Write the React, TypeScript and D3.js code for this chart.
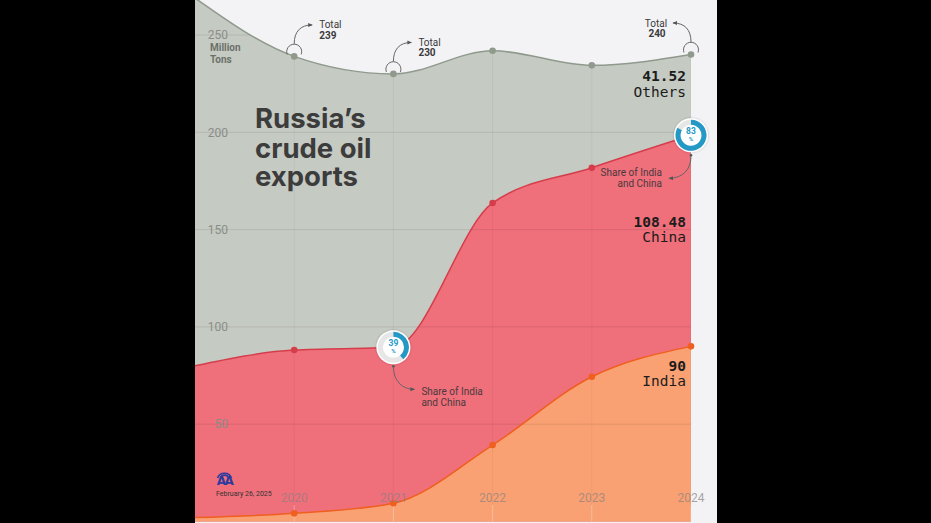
import React from "react";
import * as d3 from "d3";

const years = [2019, 2020, 2021, 2022, 2023, 2024];
const india = [2, 4.2, 9.4, 39.3, 74.4, 90];
const china = [78, 83.9, 80.1, 124.4, 107.4, 108.48];
const others = [189, 150.9, 140.5, 78.2, 52.6, 41.52];
const yTicks = [50, 100, 150, 200, 250];
const xTickYears = [2020, 2021, 2022, 2023, 2024];
const totalNotes = [
  { year: 2020, total: 239 },
  { year: 2021, total: 230 },
  { year: 2024, total: 240 },
];
const shareNotes = [
  { year: 2021, share: 39 },
  { year: 2024, share: 83 },
];

const W = 931;
const H = 523;
const PANEL_R = 717;

const C_GRAY = "#c5cac2";
const C_RED = "#ef6f7b";
const C_ORANGE = "#f9a173";
const L_GRAY = "#8f998c";
const L_RED = "#d63d4b";
const L_ORANGE = "#ef5f1f";
const BLUE = "#2499c6";

export default function App() {
  const x = d3.scaleLinear().domain([2019, 2024]).range([195, 691]);
  const y = d3.scaleLinear().domain([0, 250]).range([521.5, 35]);

  const rows = years.map((yr, i) => ({ year: yr, india: india[i], china: china[i], others: others[i] }));
  const stack = d3.stack<any>().keys(["india", "china", "others"])(rows);
  const curve = d3.curveMonotoneX;

  const area = d3
    .area<any>()
    .x((d) => x(d.data.year))
    .y0(() => y(0))
    .y1((d) => y(d[1]))
    .curve(curve);
  const line = d3
    .line<any>()
    .x((d) => x(d.data.year))
    .y((d) => y(d[1]))
    .curve(curve);

  const panelL = x(2019);
  const layerStyle = [
    { fill: C_ORANGE, stroke: L_ORANGE },
    { fill: C_RED, stroke: L_RED },
    { fill: C_GRAY, stroke: L_GRAY },
  ];

  const donutArc = d3.arc<any>();
  const totalOf = (yr: number) => {
    const i = years.indexOf(yr);
    return india[i] + china[i] + others[i];
  };
  const icOf = (yr: number) => {
    const i = years.indexOf(yr);
    return india[i] + china[i];
  };

  return (
    <div style={{ position: "fixed", left: 0, top: 0, width: W, height: H }}>
      <svg width={W} height={H} style={{ display: "block", fontFamily: "Roboto, sans-serif" }}>
        <defs>
          <clipPath id="areaClip">
            <path d={area(stack[2]) || ""} />
          </clipPath>
          <marker id="arrow" viewBox="0 0 10 10" refX="8" refY="5" markerWidth="5" markerHeight="5" orient="auto">
            <path d="M0,1 L9,5 L0,9 Z" fill="#555" />
          </marker>
          <filter id="shadow" x="-50%" y="-50%" width="200%" height="200%">
            <feDropShadow dx="0" dy="0" stdDeviation="1.2" floodColor="#000" floodOpacity="0.25" />
          </filter>
        </defs>
        <rect x={0} y={0} width={W} height={H} fill="#000" />
        <rect x={panelL} y={0} width={PANEL_R - panelL} height={H} fill="#f3f3f6" />

        {/* areas */}
        {[2, 1, 0].map((k) => (
          <path key={"a" + k} d={area(stack[k]) || ""} fill={layerStyle[k].fill} />
        ))}

        {/* grid clipped to area */}
        <g clipPath="url(#areaClip)">
          {yTicks.map((t) => (
            <line key={"gy" + t} x1={panelL} x2={x(2024)} y1={y(t)} y2={y(t)} stroke="rgba(0,0,0,0.09)" strokeWidth={1} />
          ))}
          {xTickYears.map((yr) => (
            <line key={"gx" + yr} x1={x(yr)} x2={x(yr)} y1={0} y2={H} stroke="rgba(0,0,0,0.045)" strokeWidth={1} />
          ))}
          {xTickYears.map((yr) => (
            <line key={"tk" + yr} x1={x(yr)} x2={x(yr)} y1={505} y2={H} stroke="rgba(255,255,255,0.35)" strokeWidth={1} />
          ))}
        </g>

        {/* lines */}
        {[2, 1, 0].map((k) => (
          <path key={"l" + k} d={line(stack[k]) || ""} fill="none" stroke={layerStyle[k].stroke} strokeWidth={1.5} />
        ))}
        {/* dots */}
        {[2, 1, 0].map((k) =>
          stack[k]
            .filter((d: any) => d.data.year >= 2020)
            .map((d: any) => (
              <circle key={"d" + k + d.data.year} cx={x(d.data.year)} cy={y(d[1])} r={3.3} fill={layerStyle[k].stroke} />
            ))
        )}

        {/* y tick labels */}
        {yTicks.map((t) => (
          <text key={"yl" + t} x={228} y={y(t)} dy="0.35em" textAnchor="end" fontSize={12} fill="#8a8d88">
            {t}
          </text>
        ))}
        <text x={210} y={51} fontSize={10} fontWeight={700} fill="#6c716a">Million</text>
        <text x={210} y={63} fontSize={10} fontWeight={700} fill="#6c716a">Tons</text>

        {/* title */}
        <g fontFamily="Inter, sans-serif" fontWeight={700} fontSize={27.5} fill="#3c3c3c">
          <text x={255} y={128}>Russia’s</text>
          <text x={255} y={157.5}>crude oil</text>
          <text x={255} y={186}>exports</text>
        </g>

        {/* x labels */}
        {xTickYears.map((yr) => (
          <text key={"xl" + yr} x={x(yr)} y={498} dy="0.35em" textAnchor="middle" fontSize={12} fill="#8a8080" fillOpacity={0.7}>
            {yr}
          </text>
        ))}

        {/* total notes */}
        {totalNotes.map((n) => {
          const px = x(n.year);
          const py = y(totalOf(n.year));
          const right = n.year !== 2024;
          const arcPath = `M${px - 7},${py - 2} A7.5,7.5 0 1 1 ${px + 7},${py - 2}`;
          const top = py - 12.5;
          const ex = right ? px + 18 : px - 18;
          const ey = top - 19;
          const arrow = right
            ? `M${px},${top} C${px},${top - 12} ${px + 6},${ey} ${ex},${ey}`
            : `M${px},${top} C${px},${top - 12} ${px - 6},${ey} ${ex},${ey}`;
          return (
            <g key={"tn" + n.year}>
              <path d={arcPath} fill="none" stroke="#666" strokeWidth={1} />
              <path d={arrow} fill="none" stroke="#666" strokeWidth={1} markerEnd="url(#arrow)" />
              {right ? (
                <g fontSize={10} fill="#3a3a3a">
                  <text x={ex + 7} y={ey} dy="0.35em">Total</text>
                  <text x={ex + 7} y={ey + 10.5} dy="0.35em" fontWeight={700}>{n.total}</text>
                </g>
              ) : (
                <g fontSize={10} fill="#3a3a3a" textAnchor="middle">
                  <text x={ex - 17} y={ey + 1} dy="0.35em">Total</text>
                  <text x={ex - 16} y={ey + 11} dy="0.35em" fontWeight={700}>{n.total}</text>
                </g>
              )}
            </g>
          );
        })}

        {/* right labels */}
        <g fontFamily="'DejaVu Sans Mono', monospace" fontSize={14.5} fill="#1c1c1c" textAnchor="end">
          <text x={686} y={81} fontWeight={700}>{others[5]}</text>
          <text x={686} y={96.5}>Others</text>
          <text x={686} y={227} fontWeight={700}>{china[5]}</text>
          <text x={686} y={241.5}>China</text>
          <text x={686} y={371} fontWeight={700}>{india[5]}</text>
          <text x={686} y={385.5}>India</text>
        </g>

        {/* share donuts */}
        {shareNotes.map((n) => {
          const cx = x(n.year);
          const cy = y(icOf(n.year));
          const end = (n.share / 100) * Math.PI * 2;
          const first = n.year !== 2024;
          const sx = cx;
          const sy = cy + 19;
          const arrow = first
            ? `M${sx},${sy} C${sx},${sy + 14} ${sx + 8},${sy + 23} ${sx + 21},${sy + 23}`
            : `M${sx},${sy + 2} C${sx},${sy + 15} ${sx - 8},${sy + 24} ${sx - 22},${sy + 24}`;
          return (
            <g key={"sn" + n.year}>
              <circle cx={cx} cy={cy} r={17} fill="#fff" filter="url(#shadow)" />
              <path
                transform={`translate(${cx},${cy})`}
                d={donutArc({ innerRadius: 10.5, outerRadius: 15.5, startAngle: 0, endAngle: Math.PI * 2 }) || ""}
                fill="#e6e6e6"
              />
              <path
                transform={`translate(${cx},${cy})`}
                d={donutArc({ innerRadius: 10.5, outerRadius: 15.5, startAngle: 0, endAngle: end }) || ""}
                fill={BLUE}
              />
              <text x={cx} y={cy - 1.5} textAnchor="middle" fontSize={8.5} fontWeight={700} fill={BLUE}>{n.share}</text>
              <text x={cx} y={cy + 6} textAnchor="middle" fontSize={6} fontWeight={700} fill={BLUE}>%</text>
              <circle cx={sx} cy={first ? sy : sy + 1} r={1.3} fill="#555" />
              <path d={arrow} fill="none" stroke="#666" strokeWidth={1} markerEnd="url(#arrow)" />
              {first ? (
                <g fontSize={10} fill="#4a3a3c">
                  <text x={cx + 28} y={cy + 44} dy="0.35em">Share of India</text>
                  <text x={cx + 28} y={cy + 55.5} dy="0.35em">and China</text>
                </g>
              ) : (
                <g fontSize={10} fill="#4a3a3c" textAnchor="end">
                  <text x={662} y={cy + 37} dy="0.35em">Share of India</text>
                  <text x={662} y={cy + 48.5} dy="0.35em">and China</text>
                </g>
              )}
            </g>
          );
        })}

        {/* logo */}
        <g transform="translate(224.5,477)" fill="none" stroke="#2d3a9e" strokeWidth={1.6}>
          <path d="M-7,1 A7.5,7.5 0 0 1 7,1" />
          <path d="M-4.2,1 A4.5,4.5 0 0 1 4.2,1" />
        </g>
        <text x={224.5} y={485} textAnchor="middle" fontSize={12} fontWeight={700} fill="#2d3a9e" letterSpacing={-1.5} fontFamily="'DejaVu Sans', sans-serif">AA</text>
        <text x={216} y={495.5} fontSize={7} fill="#333">February 26, 2025</text>
      </svg>
    </div>
  );
}
